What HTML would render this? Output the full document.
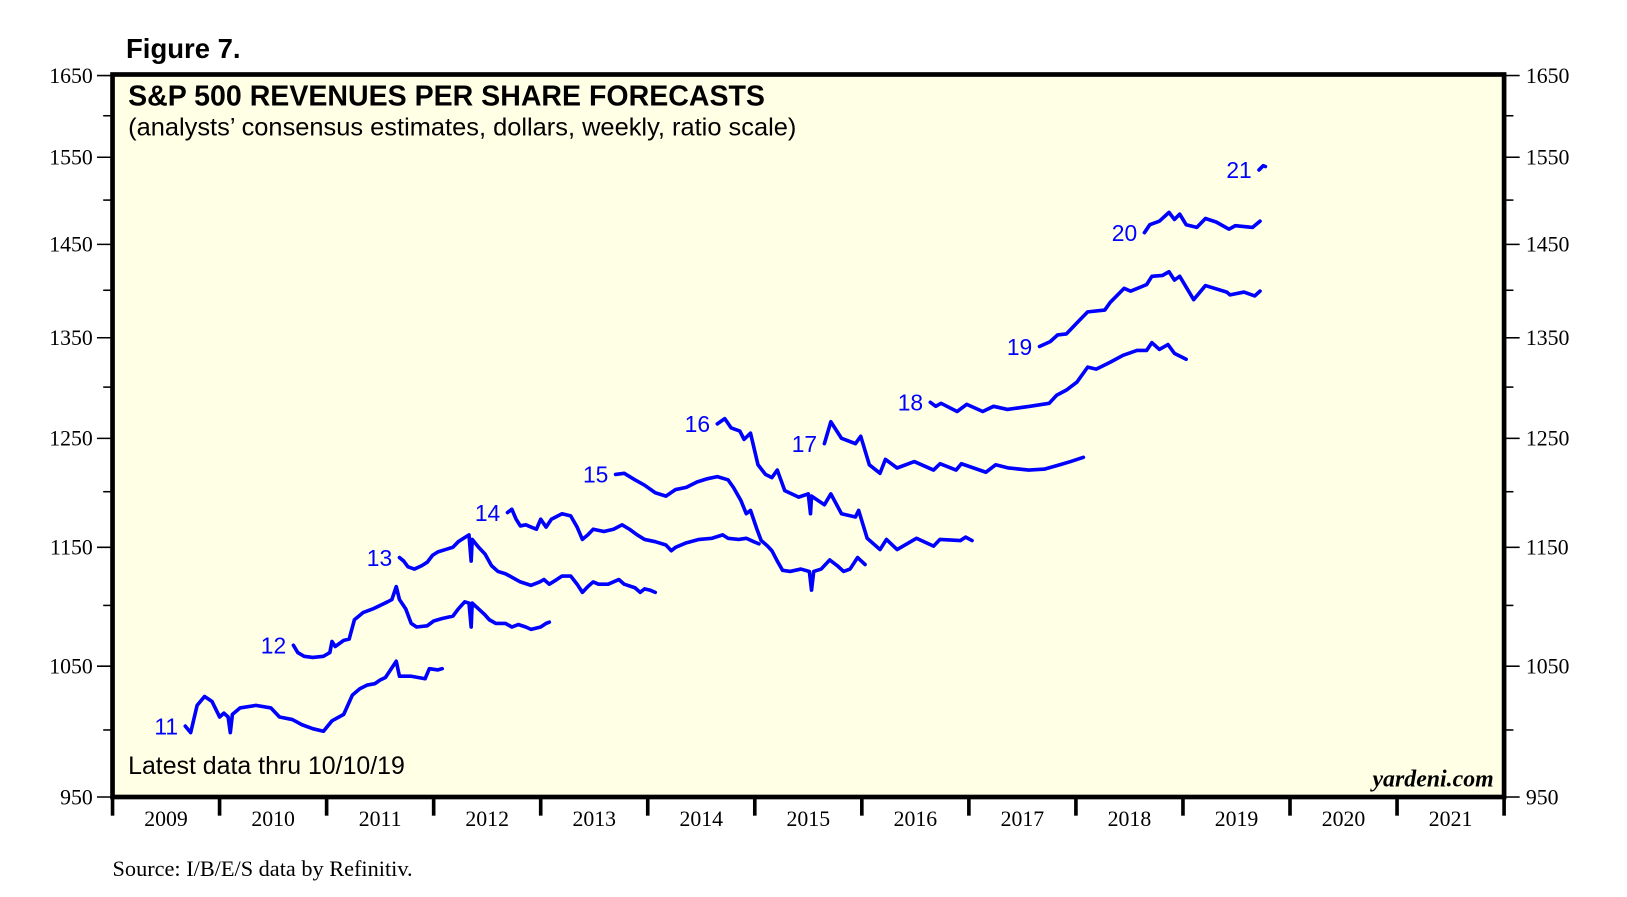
<!DOCTYPE html>
<html><head><meta charset="utf-8"><style>
html,body{margin:0;padding:0;background:#fff;}
svg{display:block;}
</style></head><body>
<svg id="chart" width="1627" height="897" viewBox="0 0 1627 897" xmlns="http://www.w3.org/2000/svg">
<g id="root" transform="translate(1.5,0.9) scale(1.0377,1.0366)">
<text x="120" y="55" font-family="Liberation Sans, sans-serif" font-weight="bold" font-size="26.5">Figure 7.</text>
<rect x="107" y="71" width="1341" height="697" fill="#ffffe6" stroke="#000" stroke-width="4.5"/>
<text x="122" y="101" font-family="Liberation Sans, sans-serif" font-weight="bold" font-size="27.5">S&amp;P 500 REVENUES PER SHARE FORECASTS</text>
<text x="122" y="130" font-family="Liberation Sans, sans-serif" font-size="24.5">(analysts’ consensus estimates, dollars, weekly, ratio scale)</text>
<text x="122" y="746" font-family="Liberation Sans, sans-serif" font-size="24">Latest data thru  10/10/19</text>
<text x="1438" y="758" text-anchor="end" font-family="Liberation Serif, serif" font-style="italic" font-weight="bold" font-size="23">yardeni.com</text>
<text x="107" y="844" font-family="Liberation Serif, serif" font-size="21.5">Source: I/B/E/S data by Refinitiv.</text>
<g id="axes"></g>
<g id="series"></g>
</g>
</svg>
<script>
const yTicks = [950,1050,1150,1250,1350,1450,1550,1650];
const yMinor = [1000,1100,1200,1300,1400,1500,1600];
const years = [2009,2010,2011,2012,2013,2014,2015,2016,2017,2018,2019,2020,2021];
const seriesNames = ["11","12","13","14","15","16","17","18","19","20","21"];
const t11=[2009.68,2009.73,2009.79,2009.86,2009.93,2010.00,2010.04,2010.08,2010.10,2010.12,2010.19,2010.34,2010.48,2010.56,2010.68,2010.77,2010.87,2010.97,2011.05,2011.16,2011.24,2011.31,2011.38,2011.45,2011.50,2011.55,2011.65,2011.68,2011.79,2011.92,2011.96,2012.04,2012.08];
const v11=[1003,998,1019,1026,1022,1010,1013,1010,998,1012,1017,1019,1017,1010,1008,1004,1001,999,1007,1012,1027,1032,1035,1036,1039,1041,1054,1042,1042,1040,1048,1047,1048];
const t12=[2010.69,2010.73,2010.79,2010.87,2010.97,2011.03,2011.05,2011.08,2011.16,2011.21,2011.26,2011.34,2011.43,2011.50,2011.57,2011.61,2011.65,2011.68,2011.74,2011.79,2011.84,2011.94,2012.00,2012.08,2012.18,2012.23,2012.29,2012.33,2012.35,2012.36,2012.42,2012.48,2012.52,2012.58,2012.67,2012.73,2012.79,2012.86,2012.91,2013.00,2013.05,2013.08];
const v12=[1067,1061,1058,1057,1058,1061,1070,1066,1071,1072,1088,1094,1097,1100,1103,1105,1116,1105,1097,1085,1082,1083,1087,1089,1091,1097,1103,1102,1082,1102,1097,1092,1088,1085,1085,1082,1084,1082,1080,1082,1085,1086];
const t13=[2011.68,2011.72,2011.76,2011.82,2011.89,2011.94,2011.99,2012.04,2012.11,2012.18,2012.23,2012.28,2012.33,2012.35,2012.36,2012.42,2012.48,2012.54,2012.60,2012.67,2012.71,2012.81,2012.91,2012.99,2013.03,2013.08,2013.15,2013.20,2013.28,2013.34,2013.39,2013.44,2013.49,2013.54,2013.63,2013.73,2013.78,2013.88,2013.93,2013.97,2014.02,2014.07];
const v13=[1141,1138,1133,1131,1134,1137,1143,1146,1148,1150,1155,1158,1161,1138,1157,1150,1144,1134,1129,1127,1125,1120,1117,1120,1122,1118,1122,1125,1125,1118,1111,1116,1120,1118,1118,1122,1118,1115,1111,1114,1113,1111];
const t14=[2012.69,2012.73,2012.77,2012.81,2012.86,2012.91,2012.96,2013.00,2013.05,2013.10,2013.20,2013.28,2013.34,2013.39,2013.44,2013.49,2013.59,2013.68,2013.76,2013.83,2013.90,2013.97,2014.07,2014.17,2014.22,2014.26,2014.36,2014.48,2014.60,2014.70,2014.75,2014.85,2014.92,2014.99,2015.04];
const v14=[1181,1184,1175,1169,1170,1168,1166,1175,1168,1175,1180,1178,1168,1157,1161,1166,1164,1166,1170,1166,1161,1157,1155,1152,1147,1150,1154,1157,1158,1161,1158,1157,1158,1155,1153];
const t15=[2013.70,2013.78,2013.88,2013.97,2014.07,2014.17,2014.26,2014.36,2014.46,2014.56,2014.65,2014.75,2014.80,2014.87,2014.92,2014.96,2015.02,2015.06,2015.12,2015.16,2015.21,2015.26,2015.33,2015.43,2015.51,2015.53,2015.55,2015.62,2015.70,2015.77,2015.83,2015.89,2015.96,2016.03];
const v15=[1216,1217,1211,1206,1199,1196,1202,1204,1209,1212,1214,1211,1204,1192,1180,1183,1166,1156,1151,1147,1138,1130,1129,1131,1129,1113,1129,1131,1139,1134,1129,1131,1141,1135];
const t16=[2014.65,2014.72,2014.78,2014.86,2014.90,2014.96,2015.03,2015.10,2015.16,2015.21,2015.28,2015.41,2015.50,2015.52,2015.53,2015.65,2015.71,2015.81,2015.94,2015.97,2016.05,2016.17,2016.23,2016.33,2016.51,2016.67,2016.73,2016.92,2016.97,2017.03];
const v16=[1264,1269,1260,1257,1249,1255,1225,1216,1213,1220,1201,1195,1198,1180,1196,1188,1198,1180,1177,1183,1158,1148,1157,1148,1158,1151,1157,1156,1159,1156];
const t17=[2015.65,2015.71,2015.81,2015.94,2015.99,2016.07,2016.17,2016.22,2016.33,2016.49,2016.67,2016.73,2016.88,2016.93,2017.16,2017.25,2017.37,2017.56,2017.71,2017.85,2017.95,2018.07];
const v17=[1245,1266,1250,1245,1252,1225,1217,1230,1222,1228,1220,1226,1220,1226,1218,1225,1222,1220,1221,1225,1228,1232];
const t18=[2016.64,2016.69,2016.74,2016.89,2016.98,2017.13,2017.23,2017.36,2017.57,2017.75,2017.82,2017.91,2018.01,2018.11,2018.19,2018.32,2018.44,2018.57,2018.66,2018.71,2018.78,2018.86,2018.92,2019.03];
const v18=[1285,1281,1284,1276,1283,1276,1281,1278,1281,1284,1292,1297,1305,1320,1318,1325,1332,1337,1337,1345,1338,1343,1334,1328];
const t19=[2017.66,2017.76,2017.83,2017.91,2018.04,2018.11,2018.27,2018.32,2018.45,2018.51,2018.66,2018.71,2018.81,2018.87,2018.92,2018.97,2019.10,2019.21,2019.41,2019.44,2019.57,2019.67,2019.72];
const v19=[1341,1346,1353,1354,1369,1377,1379,1387,1402,1399,1406,1415,1416,1420,1411,1415,1390,1405,1398,1395,1398,1394,1399];
const t20=[2018.64,2018.69,2018.78,2018.87,2018.92,2018.97,2019.03,2019.13,2019.21,2019.31,2019.43,2019.49,2019.65,2019.72];
const v20=[1463,1472,1476,1486,1478,1484,1472,1469,1479,1475,1467,1471,1469,1476];
const t21=[2019.71,2019.75,2019.77];
const v21=[1535,1540,1539];
const seriesT=[t11,t12,t13,t14,t15,t16,t17,t18,t19,t20,t21];
const seriesV=[v11,v12,v13,v14,v15,v16,v17,v18,v19,v20,v21];

const X0=107, X1=1448, Y0=72, Y1=768;
const YMAX=1650, YMIN=950;
function xScale(t){ return X0 + (t-2009)/13*(X1-X0); }
function yScale(v){ return Y0 + (Math.log(YMAX)-Math.log(v))/(Math.log(YMAX)-Math.log(YMIN))*(Y1-Y0); }
const NS='http://www.w3.org/2000/svg';
function mk(tag, attrs, parent){ const e=document.createElementNS(NS,tag); for(const k in attrs) e.setAttribute(k,attrs[k]); parent.appendChild(e); return e; }
const axes=document.getElementById('axes');
const serif='Liberation Serif, serif';
yTicks.forEach(v=>{
  const y=yScale(v);
  const l=mk('line',{x1:92,x2:107,y1:y,y2:y,stroke:'#000','stroke-width':1.5},axes);
  
  
  const r=mk('line',{x1:1448,x2:1463,y1:y,y2:y,stroke:'#000','stroke-width':1.5},axes);
  
  
  const tl=mk('text',{x:88,y:y+7,'text-anchor':'end','font-family':serif,'font-size':21},axes);
  tl.textContent=v;
  
  
  const tr=mk('text',{x:1469,y:y+7,'text-anchor':'start','font-family':serif,'font-size':21},axes);
  tr.textContent=v;
  
  
});
yMinor.forEach(v=>{
  const y=yScale(v);
  const l=mk('line',{x1:98,x2:107,y1:y,y2:y,stroke:'#000','stroke-width':1.5},axes);
  
  
  const r=mk('line',{x1:1448,x2:1457,y1:y,y2:y,stroke:'#000','stroke-width':1.5},axes);
  
  
});
for(let i=0;i<=years.length;i++){
  const x=xScale(2009+i);
  const l=mk('line',{x1:x,x2:x,y1:768,y2:786,stroke:'#000','stroke-width':3.5},axes);
  
  
}
years.forEach(yr=>{
  const t=mk('text',{x:xScale(yr+0.5),y:796,'text-anchor':'middle','font-family':serif,'font-size':21},axes);
  t.textContent=yr;
  
  
});
const sg=document.getElementById('series');
seriesNames.forEach((nm,i)=>{
  const T=seriesT[i], V=seriesV[i];
  let d='';
  T.forEach((t,j)=>{ d+=(j?'L':'M')+xScale(t).toFixed(1)+','+yScale(V[j]).toFixed(1); });
  const p=mk('path',{d:d,fill:'none',stroke:'#0000ff','stroke-width':3.5,'stroke-linejoin':'round','stroke-linecap':'round'},sg);
  
  
  const lb=mk('text',{x:xScale(T[0])-7,y:yScale(V[0])+8,'text-anchor':'end','font-family':'Liberation Sans, sans-serif','font-size':22,fill:'#0000ff'},sg);
  lb.textContent=nm;
  
  
});
</script>
</body></html>
